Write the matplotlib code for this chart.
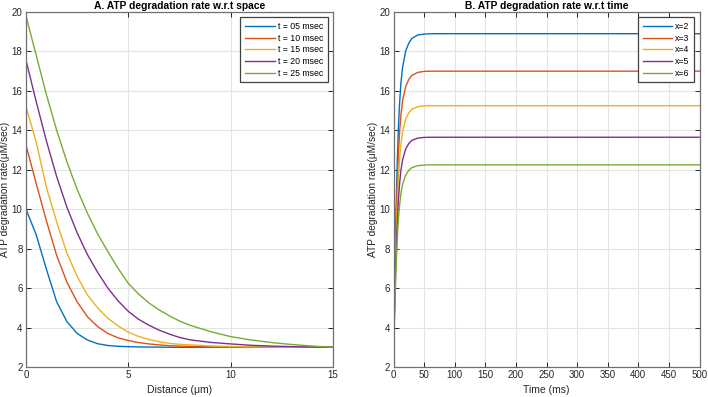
import numpy as np
import matplotlib
matplotlib.use('Agg')
import matplotlib.pyplot as plt

plt.rcParams['font.family'] = ['Liberation Sans', 'DejaVu Sans']

# MATLAB default line colours
colors = ['#0072BD', '#D95319', '#EDB120', '#7E2F8E', '#77AC30']

# A. rate vs distance, one curve per time
distance = [0, 0.5, 1, 1.5, 2, 2.5, 3, 3.5, 4, 4.5, 5, 5.5, 6, 6.5, 7, 7.5, 8,
            9, 10, 11, 12, 13, 14, 15]
rate_t05 = [10.0, 8.7, 6.95, 5.3, 4.3, 3.7, 3.37, 3.18, 3.09, 3.05, 3.03, 3.02, 3.01, 3.01, 3.0, 3.0, 3.0,
            3.0, 3.0, 3.0, 3.0, 3.0, 3.0, 3.0]
rate_t10 = [13.25, 11.3, 9.4, 7.65, 6.3, 5.3, 4.55, 4.05, 3.7, 3.48, 3.34, 3.24, 3.17, 3.12, 3.08, 3.06, 3.04,
            3.02, 3.01, 3.01, 3.0, 3.0, 3.0, 3.0]
rate_t15 = [15.2, 13.4, 11.1, 9.35, 7.77, 6.6, 5.65, 5.0, 4.47, 4.08, 3.76, 3.55, 3.4, 3.28, 3.2, 3.15, 3.12,
            3.07, 3.04, 3.02, 3.01, 3.0, 3.0, 3.0]
rate_t20 = [17.55, 15.45, 13.45, 11.65, 10.1, 8.8, 7.7, 6.8, 6.0, 5.35, 4.82, 4.42, 4.12, 3.87, 3.67, 3.5, 3.38,
            3.25, 3.17, 3.1, 3.06, 3.03, 3.01, 3.0]
rate_t25 = [19.8, 17.8, 15.8, 14.0, 12.4, 11.0, 9.8, 8.75, 7.85, 7.0, 6.24, 5.7, 5.25, 4.9, 4.6, 4.33, 4.12,
            3.8, 3.54, 3.37, 3.24, 3.14, 3.06, 3.0]
space_labels = ['t = 05 msec', 't = 10 msec', 't = 15 msec', 't = 20 msec', 't = 25 msec']

# B. rate vs time, one curve per position
time_ms = [0, 2, 4, 6, 8, 10, 12, 15, 20, 25, 30, 40, 50, 60, 500]
rate_x2 = [3.0, 6.18, 9.68, 12.22, 14.13, 15.40, 16.36, 17.23, 18.03, 18.42, 18.66, 18.84, 18.88, 18.9, 18.9]
rate_x3 = [3.0, 5.8, 8.88, 11.12, 12.8, 13.92, 14.76, 15.53, 16.23, 16.58, 16.79, 16.94, 16.99, 17.0, 17.0]
rate_x4 = [3.0, 5.45, 8.15, 10.11, 11.58, 12.56, 13.29, 13.96, 14.58, 14.88, 15.07, 15.2, 15.24, 15.25, 15.25]
rate_x5 = [3.0, 5.13, 7.47, 9.18, 10.46, 11.31, 11.95, 12.53, 13.06, 13.33, 13.49, 13.61, 13.64, 13.65, 13.65]
rate_x6 = [3.0, 4.85, 6.89, 8.37, 9.48, 10.22, 10.77, 11.28, 11.74, 11.97, 12.11, 12.21, 12.24, 12.25, 12.25]
time_labels = ['x=2', 'x=3', 'x=4', 'x=5', 'x=6']

fig = plt.figure(figsize=(7.08, 3.97), dpi=100)
ax1 = fig.add_axes([26 / 708, 30 / 397, 307 / 708, 355 / 397])
ax2 = fig.add_axes([393.5 / 708, 30 / 397, 306 / 708, 355 / 397])

for ys, lab, c in zip([rate_t05, rate_t10, rate_t15, rate_t20, rate_t25], space_labels, colors):
    ax1.plot(distance, ys, color=c, lw=1.0, label=lab)
for ys, lab, c in zip([rate_x2, rate_x3, rate_x4, rate_x5, rate_x6], time_labels, colors):
    ax2.plot(time_ms, ys, color=c, lw=1.0, label=lab)

ax1.set_xlim(0, 15)
ax1.set_xticks([0, 5, 10, 15])
ax2.set_xlim(0, 500)
ax2.set_xticks(np.arange(0, 501, 50))

for ax in (ax1, ax2):
    ax.set_ylim(2, 20)
    ax.set_yticks(np.arange(2, 21, 2))
    ax.grid(True, color='#e3e3e3', lw=0.8)
    ax.set_axisbelow(True)
    ax.tick_params(direction='in', top=True, right=True, length=3.5, width=0.7,
                   labelsize=7, colors='#262626', pad=2.5)
    for s in ax.spines.values():
        s.set_color('#707070')
        s.set_linewidth(0.9)
    ax.set_ylabel('ATP degradation rate(\u03bcM/sec)', fontsize=7.3, color='#262626', labelpad=1)
    leg = ax.legend(loc='upper right', fontsize=6.3, handlelength=3.4, handletextpad=0.3,
                    labelspacing=0.3, borderpad=0.55, fancybox=False, framealpha=1,
                    borderaxespad=0.6)
    leg.get_frame().set_edgecolor('#404040')
    leg.get_frame().set_linewidth(0.9)

ax1.set_xlabel('Distance (\u03bcm)', fontsize=7.5, color='#262626', labelpad=3)
ax2.set_xlabel('Time (ms)', fontsize=7.5, color='#262626', labelpad=3)
ax1.set_title('A. ATP degradation rate w.r.t space', fontsize=7.4, fontweight='bold', pad=2)
ax2.set_title('B. ATP degradation rate w.r.t time', fontsize=7.4, fontweight='bold', pad=2)

fig.savefig('out.png', dpi=100)
